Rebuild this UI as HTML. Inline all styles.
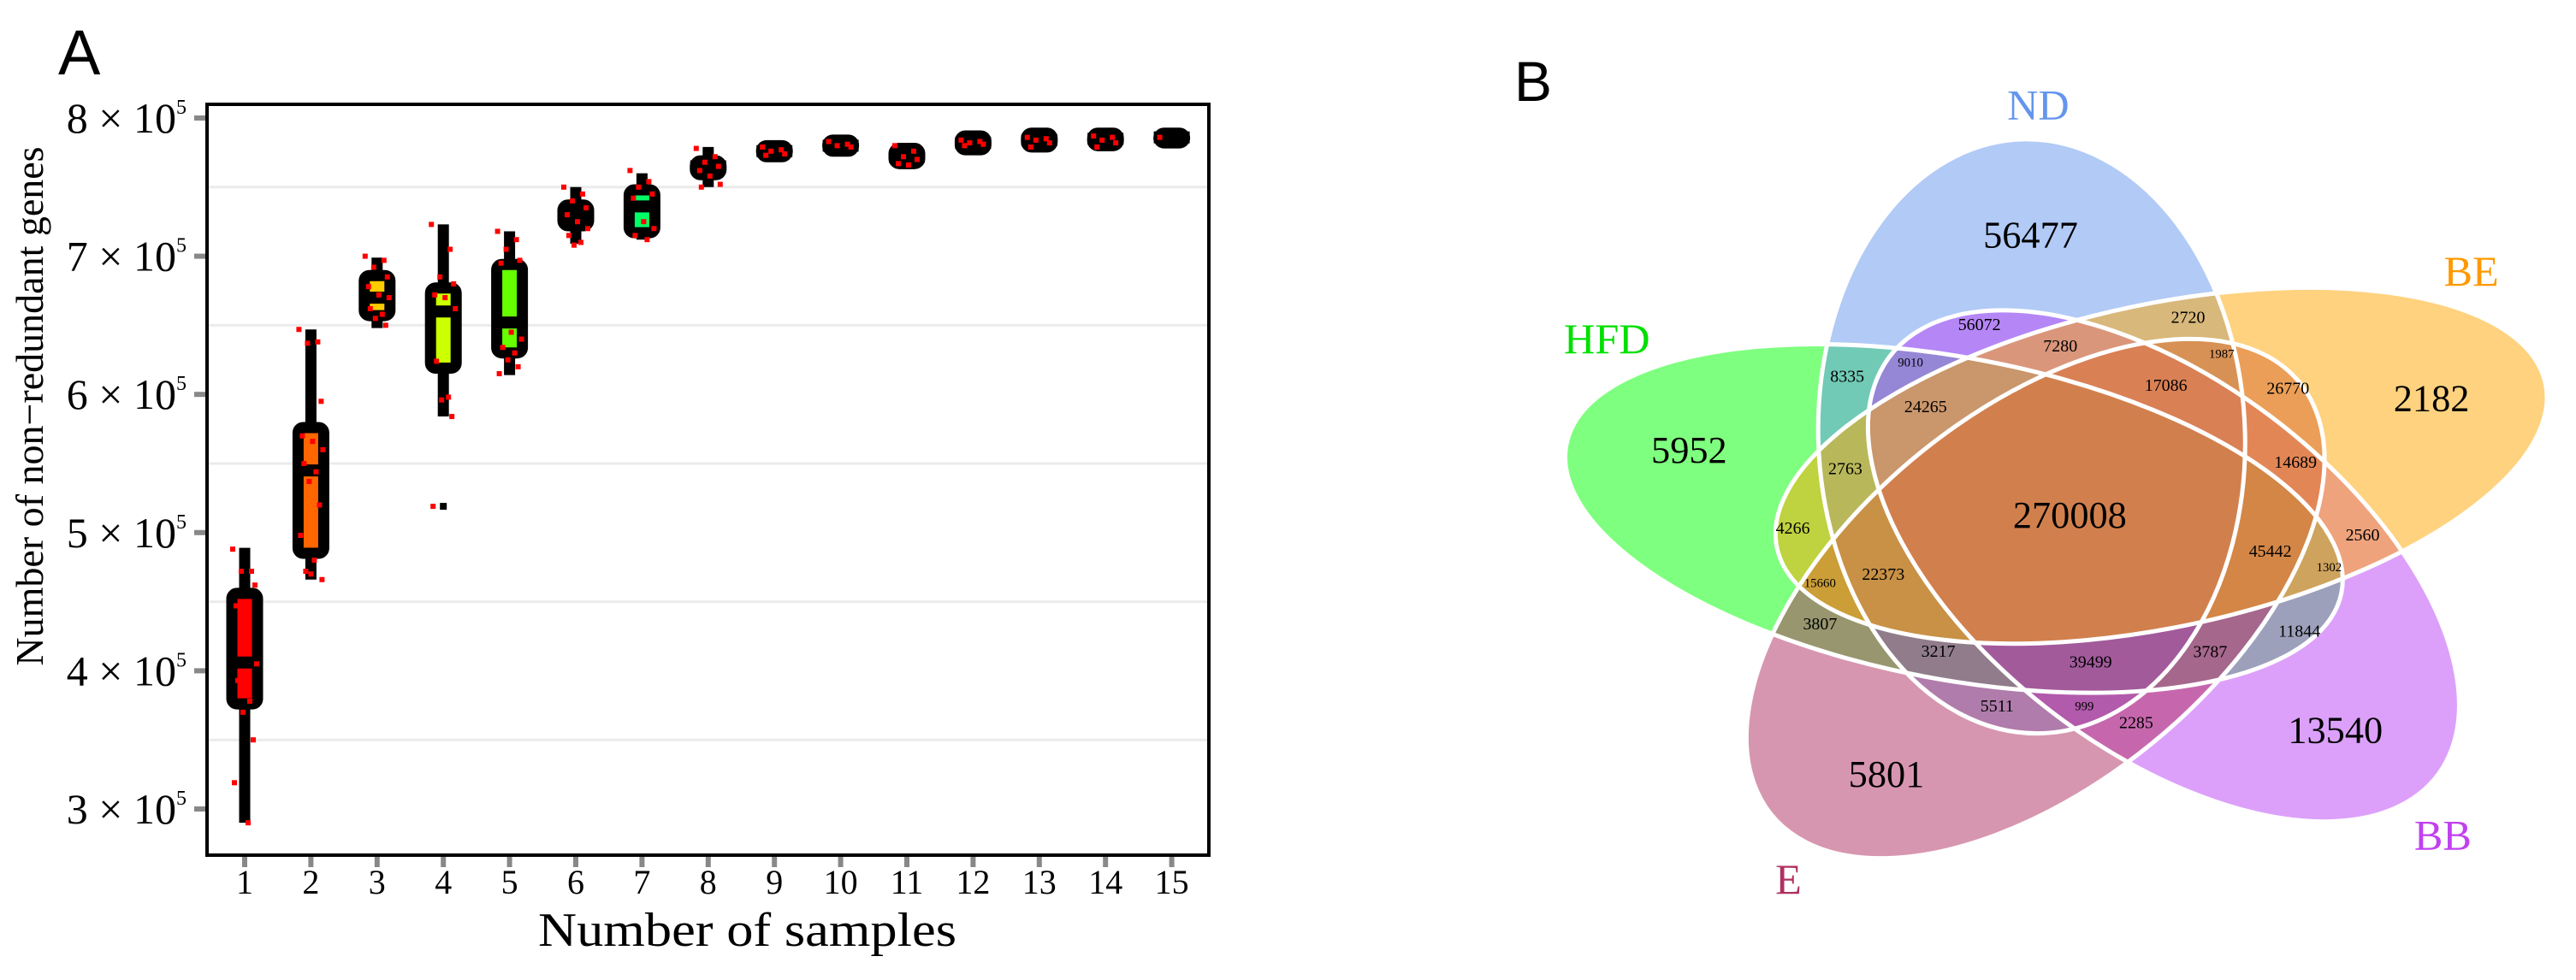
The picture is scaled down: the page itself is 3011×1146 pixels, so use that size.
<!DOCTYPE html>
<html><head><meta charset="utf-8"><style>
html,body{margin:0;padding:0;background:#fff;}
svg{display:block;}
</style></head><body>
<svg id="fig" width="3011" height="1146" viewBox="0 0 3011 1146" xmlns="http://www.w3.org/2000/svg">
<rect x="0" y="0" width="3011" height="1146" fill="#fff"/>
<text x="68" y="87" font-family="Liberation Sans, sans-serif" font-size="74">A</text>
<g id="chartA"></g>
<text x="1770" y="118" font-family="Liberation Sans, sans-serif" font-size="66">B</text>
<g id="venn" transform="translate(1865,0) scale(0.7391)"></g>
</svg>
<script>
// ---------- Panel A data ----------
const categories = ["1","2","3","4","5","6","7","8","9","10","11","12","13","14","15"];
const whiskerLow  = [2.90,4.66,6.48,5.84,6.14,7.09,7.12,7.50,7.72,7.74,7.65,7.77,7.78,7.79,7.80];
const whiskerHigh = [4.89,6.47,6.99,7.23,7.18,7.50,7.60,7.79,7.82,7.86,7.82,7.88,7.90,7.91,7.90];
const q1     = [3.76,4.85,6.57,6.19,6.30,7.22,7.17,7.59,7.72,7.76,7.67,7.77,7.79,7.80,7.82];
const q3     = [4.56,5.76,6.86,6.77,6.94,7.37,7.48,7.69,7.80,7.84,7.78,7.87,7.89,7.89,7.89];
const median = [4.06,5.45,6.70,6.60,6.52,7.30,7.36,7.65,7.76,7.80,7.72,7.82,7.84,7.85,7.86];
const outliers = [[],[],[],[5.19],[],[],[],[],[],[],[],[],[],[],[]];
const points = [
 [4.88,4.72,4.72,4.62,4.47,4.35,4.05,3.93,3.78,3.70,3.50,3.19,2.90],
 [6.47,6.38,6.37,5.95,5.70,5.66,5.60,5.50,5.44,5.37,5.20,4.98,4.80,4.72,4.70,4.66],
 [7.00,6.97,6.92,6.85,6.78,6.72,6.70,6.62,6.58,6.55,6.50],
 [7.23,7.05,6.85,6.80,6.72,6.70,6.62,6.24,5.98,5.96,5.84,5.19],
 [7.18,7.12,7.05,6.97,6.95,6.45,6.40,6.34,6.30,6.25,6.20,6.15],
 [7.50,7.45,7.40,7.35,7.30,7.25,7.20,7.15,7.10,7.08],
 [7.62,7.54,7.50,7.45,7.42,7.25,7.20,7.15,7.12],
 [7.78,7.72,7.68,7.65,7.62,7.58,7.52,7.50],
 [7.79,7.77,7.76,7.74,7.73],
 [7.83,7.81,7.80,7.79],
 [7.80,7.76,7.72,7.70,7.67,7.66],
 [7.84,7.83,7.82,7.81,7.80],
 [7.86,7.85,7.84,7.82,7.79],
 [7.87,7.86,7.84,7.82,7.79],
 [7.86]
];
const yTicks = [3,4,5,6,7,8];
const yGrid = [3.5,4.5,5.5,6.5,7.5];
const fills = ["#ff0000","#ff6600","#ffcc00","#ccff00","#66ff00","#00ff00","#00ff66","#00ffcc","#00ccff","#0066ff","#0000ff","#6600ff","#cc00ff","#ff00cc","#ff0066"];

// ---------- Panel B data ----------
const sets = ["ND","BE","BB","E","HFD"];
const setColors = ["#6495ed","#ffa500","#b941f5","#af2d5f","#00ff00"];
const labelColors = ["#6495ed","#ff9900","#c040f0","#b03060","#00e000"];
const drawOrder = [4,0,2,3,1];
const bigCounts = [["56477",688,372],["2182",1322,630],["13540",1170,1155],["5801",460,1225],["5952",148,712],["270008",750,815]];
const smallCounts = [["56072",607,513],["2720",937,502],["7280",735,547],["9010",498,571],["1987",990,557],["8335",398,595],
 ["17086",902,609],["26770",1095,614],["24265",522,643],["2763",395,741],["14689",1107,731],["4266",312,835],["2560",1213,846],
 ["45442",1067,872],["22373",455,908],["15660",355,920],["1302",1160,895],["3807",355,987],["11844",1113,998],["3217",542,1030],
 ["39499",783,1047],["3787",972,1031],["5511",635,1117],["999",773,1115],["2285",855,1143]];
const setLabelPos = [[700,165],[1385,428],[1340,1320],[305,1390],[18,535]];

const NS="http://www.w3.org/2000/svg";
function mk(tag, attrs, parent){const e=document.createElementNS(NS,tag);for(const k in attrs)e.setAttribute(k,attrs[k]);parent.appendChild(e);return e;}

const X0=286, XSTEP=77.4, Y3=946, YUNIT=161.6;
const xs = i => X0 + XSTEP*i;
const ys = v => Y3 - (v-3)*YUNIT;
const FL=242, FR=1413, FT=122, FB=1000;
const A=document.getElementById('chartA');

yGrid.forEach(v=>{
 const g=mk('line',{x1:FL,x2:FR,y1:ys(v),y2:ys(v),stroke:'#ebebeb','stroke-width':3},A);
 
 
});
yTicks.forEach(v=>{
 const t=mk('line',{x1:227,x2:FL,y1:ys(v),y2:ys(v),stroke:'#888','stroke-width':6},A);
 
 
 const tx=mk('text',{x:218,y:ys(v)+17,'text-anchor':'end','font-family':'Liberation Serif, serif','font-size':50},A);
 
 
 tx.appendChild(document.createTextNode(v+' \u00d7 10'));
 const sp=mk('tspan',{'font-size':24,dy:-22},tx); sp.textContent='5';
});
categories.forEach((c,i)=>{
 const t=mk('line',{x1:xs(i),x2:xs(i),y1:FB,y2:FB+14,stroke:'#888','stroke-width':6},A);
 
 
 const tx=mk('text',{x:xs(i),y:1045,'text-anchor':'middle','font-family':'Liberation Serif, serif','font-size':40},A);
 
 
 tx.textContent=c;
});
categories.forEach((c,i)=>{
 const x=xs(i);
 const w=mk('line',{x1:x,x2:x,y1:ys(whiskerLow[i]),y2:ys(whiskerHigh[i]),stroke:'#000','stroke-width':13},A);
 
 
 const b=mk('rect',{x:x-15,y:ys(q3[i]),width:30,height:ys(q1[i])-ys(q3[i]),fill:fills[i],stroke:'#000','stroke-width':13,rx:6},A);
 
 
 const m=mk('line',{x1:x-21,x2:x+21,y1:ys(median[i]),y2:ys(median[i]),stroke:'#000','stroke-width':14},A);
 
 
 outliers[i].forEach(v=>{
  const o=mk('rect',{x:x-4,y:ys(v)-4,width:8,height:8,fill:'#000'},A);
  
  
 });
});
const jit=[-14,8,-4,12,-10,2,14,-8,6,-2,10,-12,4,-6,0,13];
points.forEach((arr,i)=>{
 arr.forEach((v,j)=>{
  const p=mk('rect',{x:xs(i)+jit[j%jit.length]-3,y:ys(v)-3,width:6,height:6,fill:'#ff0000'},A);
  
  
 });
});
const fr=mk('rect',{x:FL,y:FT,width:FR-FL,height:FB-FT,fill:'none',stroke:'#000','stroke-width':4},A);


const xt=mk('text',{x:629,y:1106,textLength:489,lengthAdjust:'spacingAndGlyphs','font-family':'Liberation Serif, serif','font-size':56},A);


xt.textContent='Number of samples';
const yt=mk('text',{x:0,y:0,'text-anchor':'middle',transform:'translate(50,475) rotate(-90)','font-family':'Liberation Serif, serif','font-size':46},A);


yt.textContent='Number of non\u2212redundant genes';

// ---------- Venn ----------
const V=document.getElementById('venn');
const CX=749, CY=818, D=135, RX=470, RY=250;
const eg=mk('g',{transform:`translate(${CX},${CY}) scale(1.35,1)`},V);
const sg=mk('g',{transform:`translate(${CX},${CY}) scale(1.35,1)`},V);
drawOrder.forEach(k=>{
 const s=sets[k];
 const phi=(-109+72*k)*Math.PI/180;
 const cx=D*Math.cos(phi), cy=D*Math.sin(phi);
 const ax=-109+72*k+18;
 const e=mk('ellipse',{cx:cx,cy:cy,rx:RX,ry:RY,transform:`rotate(${ax} ${cx} ${cy})`,fill:setColors[k],'fill-opacity':0.5},eg);
 
 
 const o=mk('ellipse',{cx:cx,cy:cy,rx:RX,ry:RY,transform:`rotate(${ax} ${cx} ${cy})`,fill:'none',stroke:'#fff','stroke-width':5,'vector-effect':'non-scaling-stroke'},sg);
 
 
});
sets.forEach((s,k)=>{
 const l=mk('text',{x:setLabelPos[k][0],y:setLabelPos[k][1]+24,'text-anchor':'middle',fill:labelColors[k],'font-family':'Liberation Serif, serif','font-size':68},V);
 
 
 l.textContent=s;
});
bigCounts.forEach(d=>{
 const t=mk('text',{x:d[1],y:d[2]+20,'text-anchor':'middle','font-family':'Liberation Serif, serif','font-size':60},V);
 
 
 t.textContent=d[0];
});
smallCounts.forEach(d=>{
 const tiny=["1987","1302","15660","999","9010"].includes(d[0]);
 const t=mk('text',{x:d[1],y:d[2]+9,'text-anchor':'middle','font-family':'Liberation Serif, serif','font-size':tiny?20:27},V);
 
 
 t.textContent=d[0];
});
</script>
</body></html>
